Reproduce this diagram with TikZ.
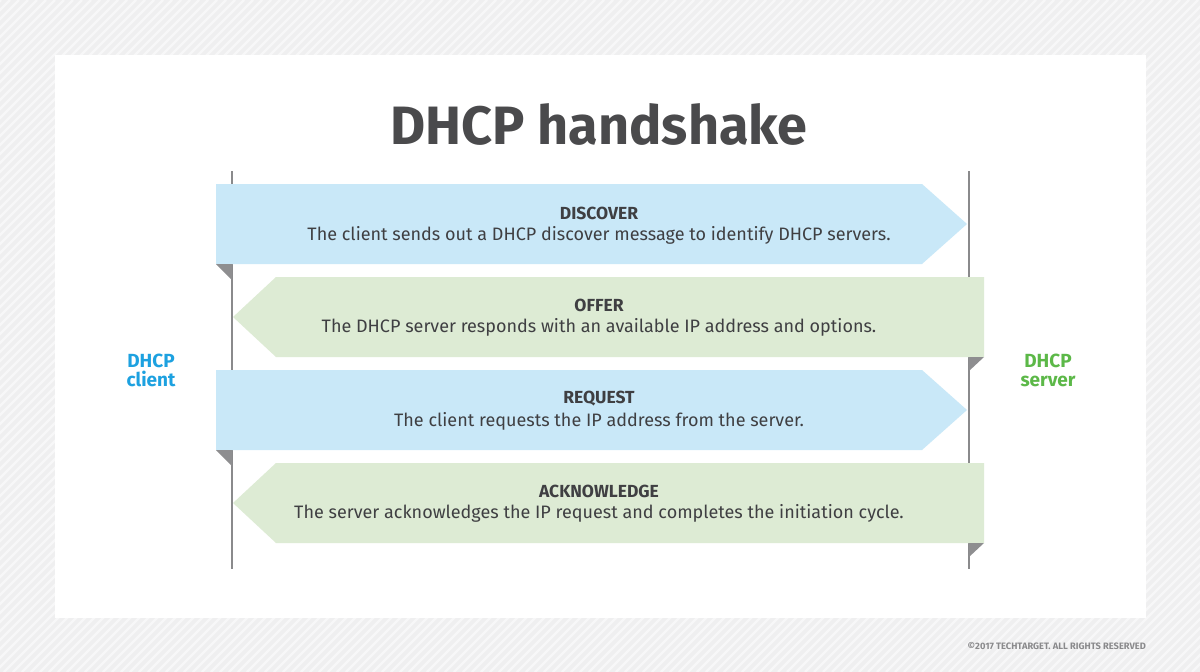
\documentclass[tikz,border=0pt]{standalone}
\usepackage{fontspec}
\setmainfont{Fira Sans}
\definecolor{bgray}{HTML}{EFEFF0}
\definecolor{ablue}{HTML}{C9E8F8}
\definecolor{agreen}{HTML}{DDEBD4}
\definecolor{fold}{HTML}{8E8E90}
\definecolor{vline}{HTML}{8A8A8C}
\definecolor{txt}{HTML}{3F3F42}
\definecolor{ttl}{HTML}{4A4A4C}
\definecolor{cblue}{HTML}{1DA1E0}
\definecolor{sgreen}{HTML}{5CB848}
\definecolor{copy}{HTML}{8A8A8C}
\begin{document}
\begin{tikzpicture}[x=1pt,y=-1pt,
  lifeline/.style={draw=vline,line width=1.6pt},
  foldtri/.style={fill=fold},
  head/.style={font=\bfseries\fontsize{17.5}{20}\selectfont,text=txt,inner sep=0pt},
  body/.style={font=\fontsize{18}{21}\selectfont,text=txt,inner sep=0pt},
  party/.style={font=\bfseries\fontsize{19}{21}\selectfont,align=center,inner sep=0pt}]
\useasboundingbox (0,0) rectangle (1200,672);
\begin{scope}
  \clip (0,0) rectangle (1200,672);
  \fill[bgray] (0,0) rectangle (1200,672);
  \foreach \i in {-680,-671,...,1200} \draw[white,line width=2.2pt,opacity=0.55] (\i,672) -- ++(672,-672);
\end{scope}
\fill[white] (55,55) rectangle (1146,618);
% lifelines
\coordinate (cl-top) at (232,171); \coordinate (cl-bot) at (232,569);
\coordinate (sv-top) at (969,171); \coordinate (sv-bot) at (969,569);
\draw[lifeline] (cl-top) -- (cl-bot);
\draw[lifeline] (sv-top) -- (sv-bot);
% arrows
\fill[ablue] (216,184) -- (922,184) -- (967,224) -- (922,264) -- (216,264) -- cycle;
\fill[foldtri] (216,264) -- (232,264) -- (232,280) -- cycle;
\fill[agreen] (984,277) -- (276,277) -- (233,317) -- (276,357) -- (984,357) -- cycle;
\fill[foldtri] (969,357) -- (984,357) -- (969,371) -- cycle;
\fill[ablue] (216,370) -- (922,370) -- (967,410) -- (922,450) -- (216,450) -- cycle;
\fill[foldtri] (216,450) -- (232,450) -- (232,466) -- cycle;
\fill[agreen] (984,463) -- (276,463) -- (233,503) -- (276,543) -- (984,543) -- cycle;
\fill[foldtri] (969,543) -- (984,543) -- (969,557) -- cycle;
% title
\node[font=\bfseries\fontsize{54}{58}\selectfont,text=ttl,inner sep=0pt] (title) at (599,124) {DHCP handshake};
% texts
\node[head] (h1) at (599,213) {DISCOVER};
\node[body] (b1) at (599,235) {The client sends out a DHCP discover message to identify DHCP servers.};
\node[head] (h2) at (599,305) {OFFER};
\node[body] (b2) at (599,327) {The DHCP server responds with an available IP address and options.};
\node[head] (h3) at (599,399) {REQUEST};
\node[body] (b3) at (599,421) {The client requests the IP address from the server.};
\node[head] (h4) at (599,491) {ACKNOWLEDGE};
\node[body] (b4) at (599,513) {The server acknowledges the IP request and completes the initiation cycle.};
\node[party,text=cblue] (client) at (151,370) {DHCP\\[-2pt]client};
\node[party,text=sgreen] (server) at (1048,370) {DHCP\\[-2pt]server};
\node[font=\bfseries\fontsize{9.3}{10}\selectfont,text=copy,anchor=east,inner sep=0pt] (cr) at (1146,646) {©2017 TECHTARGET. ALL RIGHTS RESERVED};
\end{tikzpicture}
\end{document}
